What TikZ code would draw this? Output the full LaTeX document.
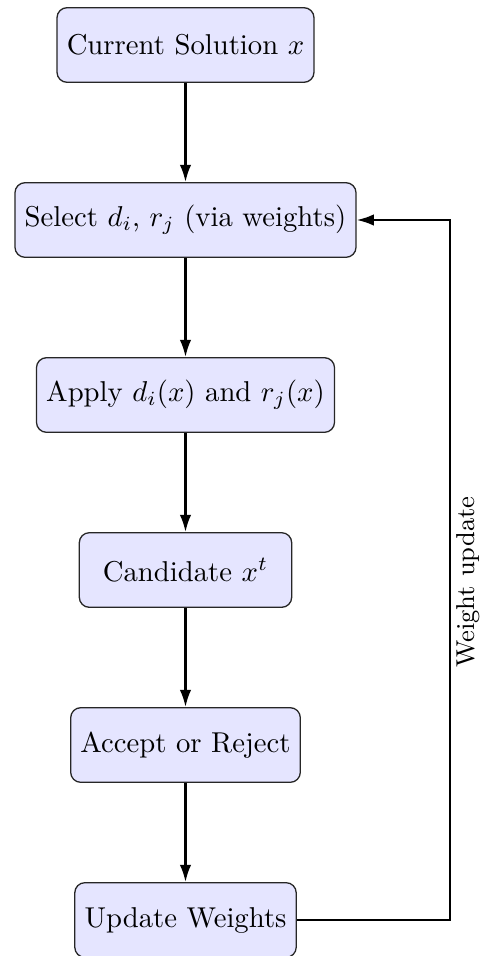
\documentclass[tikz,border=0pt]{standalone}
\usetikzlibrary{arrows.meta}
\begin{document}
\begin{tikzpicture}[x=0.3484pt, y=-0.3484pt,
  box/.style={draw=black!85, fill=blue!10, rounded corners=3.5pt, line width=0.45pt,
    minimum height=26pt, minimum width=74pt, inner xsep=3.4pt, font=\normalsize},
  arr/.style={line width=0.8pt, -{Latex[length=6pt,width=4pt]}}]
\useasboundingbox (0,0) rectangle (483,956);
\node[box] (cur) at (185.5,45) {Current Solution $x$};
\node[box] (sel) at (185.5,220) {Select $d_i$, $r_j$ (via weights)};
\node[box] (app) at (185.5,395) {Apply $d_i(x)$ and $r_j(x)$};
\node[box] (cand) at (185.5,570) {Candidate $x^t$};
\node[box] (acc) at (185.5,745) {Accept or Reject};
\node[box] (upd) at (185.5,920) {Update Weights};
\draw[arr] (cur) -- (sel);
\draw[arr] (sel) -- (app);
\draw[arr] (app) -- (cand);
\draw[arr] (cand) -- (acc);
\draw[arr] (acc) -- (upd);
\coordinate (corner) at (450,920);
\draw[arr] (upd.east) -- (corner) |- (sel.east);
\node[rotate=90, font=\small] (lbl) at (468,582) {Weight update};
\end{tikzpicture}
\end{document}
